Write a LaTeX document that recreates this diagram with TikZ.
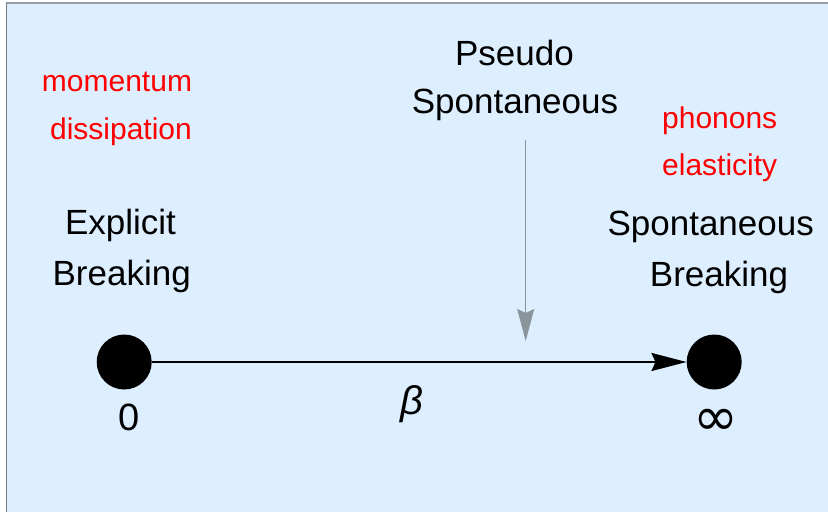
\documentclass[tikz,border=0pt]{standalone}
\usepackage{fontspec}
\setmainfont{Liberation Sans}
\newfontfamily\dejavu{DejaVu Sans}
\usetikzlibrary{arrows.meta}
\definecolor{bgblue}{RGB}{221,238,255}
\definecolor{framegray}{RGB}{150,158,165}
\definecolor{leftgray}{RGB}{120,125,130}
\definecolor{arrowgray}{RGB}{138,148,155}
\begin{document}
\begin{tikzpicture}[x=1pt,y=-1pt,
  lbl/.style={anchor=base, inner sep=0pt, font=\fontsize{35}{42}\selectfont},
  redlbl/.style={anchor=base, inner sep=0pt, text=red, font=\fontsize{30}{36}\selectfont},
  mathlbl/.style={anchor=base, inner sep=0pt, font=\fontsize{38}{44}\selectfont},
  dot/.style={circle, fill=black, minimum size=55pt, inner sep=0pt},
  mainarrow/.style={line width=2pt, -{Stealth[length=35pt, width=18pt, inset=4pt]}},
  grayarrow/.style={arrowgray, line width=1.3pt, -{Stealth[length=32pt, width=17pt, inset=4pt]}}]
\useasboundingbox (0,0) rectangle (828,512);
\fill[bgblue] (7,3) rectangle (828,512);
\draw[framegray, line width=2.2pt] (6,3) -- (828,3);
\draw[leftgray, line width=1pt] (6.5,3) -- (6.5,512);

% red labels
\node[redlbl] (mom) at (117,91.7) {momentum};
\node[redlbl] (diss) at (121,139.3) {dissipation};
\node[redlbl] (phon) at (719.7,128.8) {phonons};
\node[redlbl] (elas) at (719.7,175.5) {elasticity};

% black labels
\node[lbl] (expl) at (120.5,234.3) {Explicit};
\node[lbl] (brk1) at (121.7,285) {Breaking};
\node[lbl] (pseu) at (514.5,65) {Pseudo};
\node[lbl] (spon1) at (515,113.3) {Spontaneous};
\node[lbl] (spon2) at (710.7,235) {Spontaneous};
\node[lbl] (brk2) at (719,286.5) {Breaking};

% dots
\node[dot] (zero) at (124.2,362) {};
\node[dot] (inf) at (714.2,362) {};

% math labels
\node[mathlbl] (zl) at (128.8,430) {0};
\node[mathlbl, font=\fontsize{54}{60}\dejavu\selectfont] (il) at (715.5,435) {∞};
\node[mathlbl, font=\fontsize{40}{46}\selectfont] (beta) at (411.5,414) {\itshape β};

% arrows
\draw[mainarrow] (zero) -- (inf);
\coordinate (gtop) at (525.7,140);
\coordinate (gtip) at (525.7,341);
\draw[grayarrow] (gtop) -- (gtip);
\end{tikzpicture}
\end{document}
